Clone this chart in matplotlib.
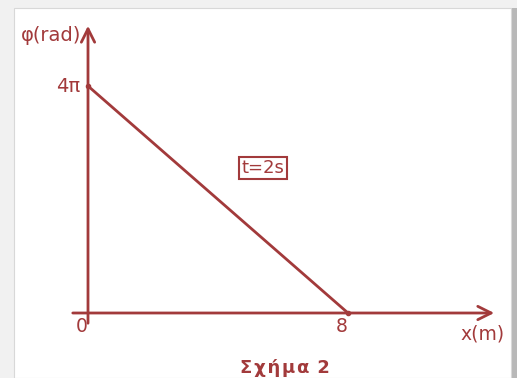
import numpy as np
import matplotlib.pyplot as plt
from matplotlib.patches import Rectangle

# phase along the wave at t = 2 s
x_pts = [0, 8]
phi_pts = [4 * np.pi, 0]
x_ticks = [0, 8]
x_tick_labels = ['0', '8']
phi_ticks = [4 * np.pi]
phi_tick_labels = ['4π']

RED = '#a23a3b'

fig = plt.figure(figsize=(5.17, 3.78), dpi=100)
fig.patch.set_facecolor('#f1f1f1')

# white card with a soft shadow on the right (kept below the axes)
fig.patches.append(Rectangle((511 / 517, 0), 6 / 517, 1 - 8 / 378, transform=fig.transFigure,
                             facecolor='#b8b8b8', edgecolor='none', zorder=-2))
fig.patches.append(Rectangle((14 / 517, 0), 497 / 517, 1 - 8 / 378, transform=fig.transFigure,
                             facecolor='white', edgecolor='#d8d8d8', lw=0.8, zorder=-1))

ax = fig.add_axes([0, 0, 1, 1])
ax.set_facecolor('none')
ax.axis('off')

# pixel scale: x 32.5 px per m from x=88, phi 18.06 px per rad from y=313
px_x = 32.5
px_y = 227 / (4 * np.pi)
ax.set_xlim(-88 / px_x, (517 - 88) / px_x)
ax.set_ylim((313 - 378) / px_y, 313 / px_y)

x_start, x_end = -18 / px_x, 409 / px_x
y_start, y_end = -13 / px_y, 290 / px_y

ax.annotate('', xy=(x_end, 0), xytext=(x_start, 0),
            arrowprops=dict(arrowstyle='->', color=RED, lw=2, mutation_scale=24))
ax.annotate('', xy=(0, y_end), xytext=(0, y_start),
            arrowprops=dict(arrowstyle='->', color=RED, lw=2, mutation_scale=24))

ax.plot(x_pts, phi_pts, color=RED, lw=2, solid_capstyle='round')
ax.plot(x_pts, phi_pts, 'o', color=RED, ms=3)

for xt, lab in zip(x_ticks, x_tick_labels):
    ax.text(xt - 6 / px_x, -14 / px_y, lab, color=RED, fontsize=13.5,
            ha='center', va='center')
for yt, lab in zip(phi_ticks, phi_tick_labels):
    ax.text(-8 / px_x, yt, lab, color=RED, fontsize=14, ha='right', va='center')

ax.text(-7 / px_x, 278 / px_y, 'φ(rad)', color=RED, fontsize=14, ha='right', va='center')
ax.text(417 / px_x, -21 / px_y, 'x(m)', color=RED, fontsize=13.5, ha='right', va='center')

ax.text(175 / px_x, 145 / px_y, 't=2s', color=RED, fontsize=13, ha='center', va='center',
        bbox=dict(boxstyle='square,pad=0.12', facecolor='white', edgecolor=RED, lw=1.5))

# caption, letter-spaced with hair spaces
ax.text(197 / px_x, -55 / px_y, '\u200a'.join('Σχήμα') + ' \u200a2', color=RED, fontsize=13,
        fontweight='bold', ha='center', va='center')

fig.savefig('out.png', dpi=100)
